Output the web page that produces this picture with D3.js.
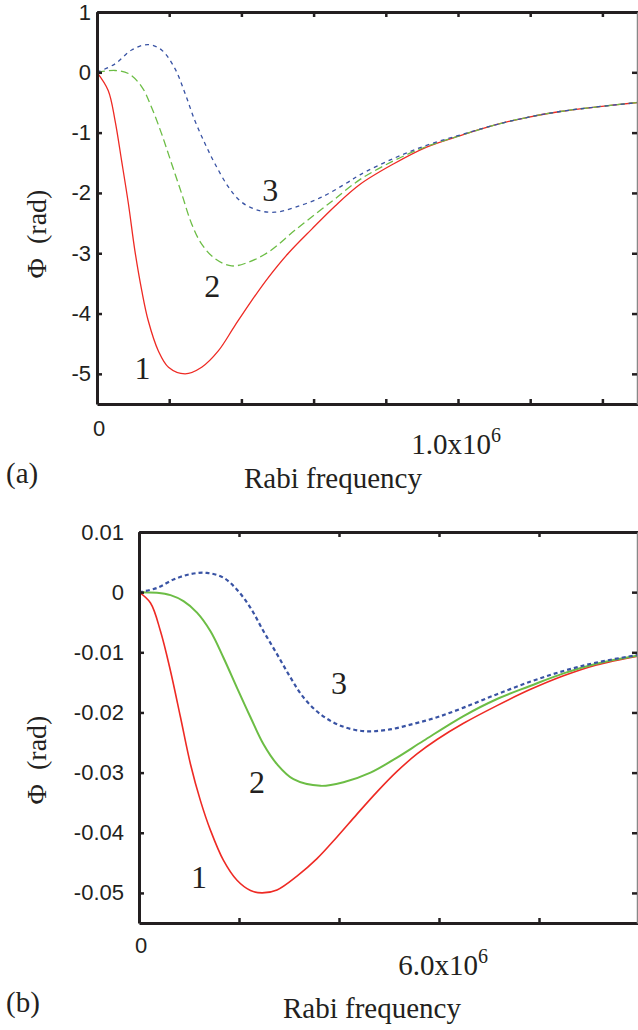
<!DOCTYPE html>
<html>
<head>
<meta charset="utf-8">
<script src="https://cdn.jsdelivr.net/npm/d3@7"></script>
<style>
  body { margin: 0; background: #fff; }
  svg { display: block; }
</style>
</head>
<body>
<div id="chart"></div>
<script>
var width = 638;
var height = 1030;

// panel (a): x in units of 1e6, y in rad
var topCurve1 = [[0,0],[0.031,-0.30],[0.05,-0.80],[0.068,-1.46],[0.087,-2.18],[0.105,-2.96],[0.124,-3.62],[0.142,-4.12],[0.170,-4.62],[0.198,-4.89],[0.244,-5.0],[0.29,-4.89],[0.336,-4.62],[0.382,-4.20],[0.428,-3.79],[0.475,-3.40],[0.53,-3.00],[0.595,-2.60],[0.659,-2.22],[0.728,-1.86],[0.821,-1.52],[0.913,-1.24],[1.006,-1.05],[1.098,-0.88],[1.19,-0.75],[1.283,-0.65],[1.375,-0.58],[1.5,-0.5]];
var topCurve2 = [[0,0],[0.05,0.03],[0.087,-0.02],[0.124,-0.24],[0.151,-0.58],[0.179,-1.02],[0.207,-1.52],[0.235,-2.02],[0.262,-2.51],[0.29,-2.85],[0.327,-3.09],[0.373,-3.21],[0.419,-3.15],[0.475,-2.98],[0.548,-2.62],[0.622,-2.27],[0.659,-2.10],[0.728,-1.78],[0.821,-1.47],[0.913,-1.23],[1.006,-1.05],[1.098,-0.88],[1.19,-0.75],[1.283,-0.65],[1.375,-0.58],[1.5,-0.5]];
var topCurve3 = [[0,0],[0.05,0.14],[0.096,0.37],[0.142,0.46],[0.179,0.37],[0.216,0.06],[0.244,-0.35],[0.271,-0.80],[0.299,-1.18],[0.327,-1.52],[0.364,-1.90],[0.40,-2.15],[0.447,-2.29],[0.493,-2.32],[0.548,-2.24],[0.622,-2.07],[0.696,-1.82],[0.728,-1.70],[0.821,-1.43],[0.913,-1.21],[1.006,-1.04],[1.098,-0.88],[1.19,-0.75],[1.283,-0.65],[1.375,-0.58],[1.5,-0.5]];

// panel (b): x in units of 1e6, y in rad
var botCurve1 = [[0,0],[0.23,-0.0018],[0.43,-0.0065],[0.63,-0.0131],[0.83,-0.0208],[1.03,-0.0286],[1.23,-0.0347],[1.43,-0.0396],[1.69,-0.0446],[1.96,-0.0479],[2.23,-0.0496],[2.46,-0.05],[2.76,-0.0495],[3.16,-0.0472],[3.56,-0.0443],[3.96,-0.0407],[4.36,-0.0369],[4.76,-0.0332],[5.16,-0.0298],[5.56,-0.0269],[5.96,-0.0245],[6.49,-0.0218],[7.15,-0.0189],[7.82,-0.0162],[8.49,-0.0139],[9.15,-0.0121],[10,-0.0106]];
var botCurve2 = [[0,0],[0.36,-0.0001],[0.63,-0.0005],[0.89,-0.0015],[1.16,-0.0034],[1.43,-0.0065],[1.69,-0.0109],[1.96,-0.0159],[2.23,-0.0208],[2.49,-0.0253],[2.76,-0.0286],[3.09,-0.0311],[3.63,-0.0322],[4.09,-0.0316],[4.63,-0.030],[5.16,-0.0275],[5.69,-0.0247],[6.49,-0.0206],[7.15,-0.0178],[7.82,-0.0156],[8.49,-0.0135],[9.15,-0.0119],[10,-0.0105]];
var botCurve3 = [[0,0],[0.36,0.0007],[0.69,0.0021],[1.03,0.003],[1.36,0.0032],[1.69,0.0024],[1.96,0.0004],[2.23,-0.0026],[2.49,-0.0065],[2.76,-0.0103],[3.03,-0.0142],[3.29,-0.0175],[3.63,-0.0203],[4.03,-0.0222],[4.49,-0.0231],[4.96,-0.0229],[5.49,-0.0219],[5.96,-0.0208],[6.49,-0.0192],[7.15,-0.017],[7.82,-0.0149],[8.49,-0.0131],[9.15,-0.0117],[10,-0.0104]];

var topXTicks = [0, 0.2, 0.4, 0.6, 0.8, 1.0, 1.2, 1.4];
var topYTicks = [1, 0, -1, -2, -3, -4, -5];
var botXTicks = [0, 2, 4, 6, 8, 10];
var botYTicks = [0.01, 0, -0.01, -0.02, -0.03, -0.04, -0.05];

var curveNames = ["1", "2", "3"];

var sans = "'Liberation Sans', Arial, Helvetica, sans-serif";
var serif = "'Liberation Serif', 'Times New Roman', serif";
var axisColor = "#231f20";

var svg = d3.select("#chart").append("svg")
    .attr("width", width)
    .attr("height", height);

svg.append("rect").attr("width", width).attr("height", height).attr("fill", "#fff");

function drawPanel(p) {
    var x = d3.scaleLinear().domain(p.xDomain).range([p.left, p.right]);
    var y = d3.scaleLinear().domain(p.yDomain).range([p.bottom, p.top]);
    var g = svg.append("g");

    // curves
    var line = d3.line()
        .x(d => x(d[0]))
        .y(d => y(d[1]))
        .curve(d3.curveCatmullRom.alpha(0.5));

    p.series.forEach(function(s) {
        g.append("path")
            .attr("d", line(s.data))
            .attr("fill", "none")
            .attr("stroke", s.color)
            .attr("stroke-width", s.width)
            .attr("stroke-dasharray", s.dash);
    });

    // frame with inward ticks
    var bottomAxis = d3.axisBottom(x).tickValues(p.xTicks).tickSizeInner(-5).tickSizeOuter(0).tickFormat("");
    var topAxis = d3.axisTop(x).tickValues(p.xTicks).tickSizeInner(-5).tickSizeOuter(0).tickFormat("");
    var leftAxis = d3.axisLeft(y).tickValues(p.yTicks).tickSizeInner(-5).tickSizeOuter(0)
        .tickPadding(p.yPad).tickFormat(d => String(d));
    var rightAxis = d3.axisRight(y).tickValues(p.yTicks).tickSizeInner(-5).tickSizeOuter(0).tickFormat("");

    var axes = [
        g.append("g").attr("transform", `translate(0,${p.bottom})`).call(bottomAxis),
        g.append("g").attr("transform", `translate(0,${p.top})`).call(topAxis),
        g.append("g").attr("transform", `translate(${p.left},0)`).call(leftAxis),
        g.append("g").attr("transform", `translate(${width - 1},0)`).call(rightAxis)
    ];
    axes.forEach(function(a) {
        a.select(".domain").attr("stroke", axisColor).attr("stroke-width", 3);
        a.selectAll(".tick line").attr("stroke", axisColor).attr("stroke-width", 2.5);
        a.selectAll("text").attr("font-family", sans).attr("font-size", 22).attr("fill", axisColor);
    });
    axes[3].select(".domain").attr("stroke", "#888").attr("stroke-width", 1.5);

    // x tick labels: only 0 and the labelled tick
    g.append("text")
        .attr("x", x(0) + 2)
        .attr("y", p.zeroBaseline)
        .attr("text-anchor", "middle")
        .attr("font-family", sans)
        .attr("font-size", 22)
        .attr("fill", axisColor)
        .text("0");

    var lab = g.append("text")
        .attr("x", x(p.xLabelValue) + p.xLabelShift)
        .attr("y", p.xLabelBaseline)
        .attr("text-anchor", "middle")
        .attr("font-family", serif)
        .attr("font-size", 29)
        .attr("fill", axisColor);
    lab.append("tspan").text(p.xLabelText);
    lab.append("tspan").attr("font-size", 20).attr("dy", -12).text("6");

    // axis titles
    g.append("text")
        .attr("x", p.titleX)
        .attr("y", p.titleY)
        .attr("text-anchor", "middle")
        .attr("font-family", serif)
        .attr("font-size", 29)
        .attr("fill", axisColor)
        .text("Rabi frequency");

    g.append("text")
        .attr("transform", `translate(${p.yTitleX},${p.yTitleY}) rotate(-90)`)
        .attr("text-anchor", "middle")
        .attr("font-family", serif)
        .attr("font-size", 28)
        .attr("fill", axisColor)
        .style("white-space", "pre")
        .text("\u03A6  (rad)");

    g.append("text")
        .attr("x", 6)
        .attr("y", p.panelBaseline)
        .attr("font-family", serif)
        .attr("font-size", 29)
        .attr("fill", axisColor)
        .text(p.panel);

    // curve numbers
    p.curveLabels.forEach(function(c, i) {
        g.append("text")
            .attr("x", x(c[0]))
            .attr("y", y(c[1]))
            .attr("text-anchor", "middle")
            .attr("font-family", serif)
            .attr("font-size", 32)
            .attr("fill", "#231f20")
            .text(curveNames[i]);
    });
}

drawPanel({
    left: 97, right: 638.5, top: 12, bottom: 404,
    xDomain: [0, 1.5], yDomain: [-5.5, 1],
    xTicks: topXTicks, yTicks: topYTicks, yPad: 6,
    zeroBaseline: 436, xLabelValue: 1.0, xLabelShift: -2, xLabelBaseline: 454, xLabelText: "1.0x10",
    titleX: 333, titleY: 488, yTitleX: 46, yTitleY: 234,
    panel: "(a)", panelBaseline: 483,
    series: [
        { data: topCurve1, color: "#ee2a24", width: 1.3, dash: null },
        { data: topCurve2, color: "#6cbd45", width: 1.3, dash: "8,4" },
        { data: topCurve3, color: "#3953a4", width: 1.3, dash: "4,4" }
    ],
    curveLabels: [[0.126, -5.08], [0.319, -3.72], [0.48, -2.13]]
});

drawPanel({
    left: 139, right: 639, top: 532, bottom: 923,
    xDomain: [0, 10], yDomain: [-0.055, 0.01],
    xTicks: botXTicks, yTicks: botYTicks, yPad: 15,
    zeroBaseline: 953, xLabelValue: 6, xLabelShift: 4, xLabelBaseline: 975, xLabelText: "6.0x10",
    titleX: 372, titleY: 1018, yTitleX: 46, yTitleY: 760,
    panel: "(b)", panelBaseline: 1012,
    series: [
        { data: botCurve1, color: "#ee2a24", width: 1.6, dash: null },
        { data: botCurve2, color: "#6cbd45", width: 2, dash: null },
        { data: botCurve3, color: "#3953a4", width: 2.2, dash: "4,3" }
    ],
    curveLabels: [[1.2, -0.0492], [2.36, -0.0334], [4.0, -0.0169]]
});
</script>
</body>
</html>
